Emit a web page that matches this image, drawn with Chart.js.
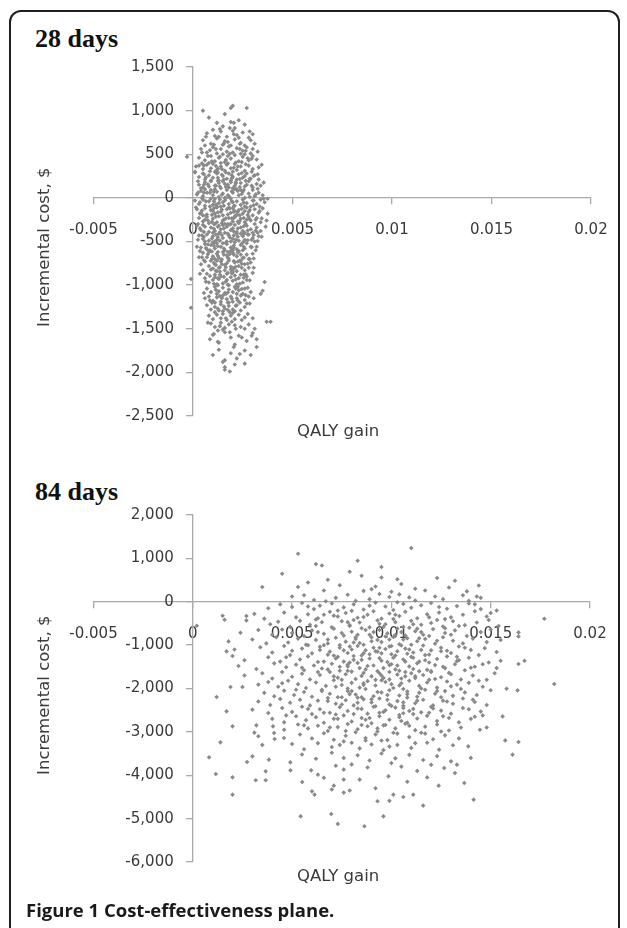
<!DOCTYPE html>
<html><head><meta charset="utf-8">
<script src="https://cdn.jsdelivr.net/npm/chart.js@4.4.1/dist/chart.umd.min.js"></script>
<style>
html,body{margin:0;padding:0;background:#fff;}
body{width:627px;height:928px;position:relative;overflow:hidden;}
#frame{position:absolute;left:9px;top:10px;width:611px;height:940px;border:2px solid #231f20;border-radius:12px;box-sizing:border-box;}
canvas{position:absolute;left:0;}
.head{position:absolute;left:35px;font-family:"Liberation Serif","Times New Roman",serif;font-weight:bold;font-size:26px;line-height:26px;color:#111;white-space:nowrap}
.xt{position:absolute;left:297px;font-family:"DejaVu Sans";font-size:16.5px;line-height:16.5px;color:#3a3a3a;white-space:nowrap}
.yt{position:absolute;width:300px;text-align:center;font-family:"DejaVu Sans";font-size:16.5px;line-height:16.5px;color:#3a3a3a;transform:rotate(-90deg);white-space:nowrap}
.cap{position:absolute;left:26px;top:901px;font-family:"Open Sans";font-weight:700;font-size:18.5px;line-height:18.5px;color:#1a1a1a;white-space:nowrap}
</style></head><body>
<div id="frame"></div>
<div class="head" style="top:26px">28 days</div>
<div class="head" style="top:479px">84 days</div>
<canvas id="c28" width="627" height="464" style="top:0"></canvas>
<canvas id="c84" width="627" height="464" style="top:464px"></canvas>
<div class="xt" style="top:423px">QALY gain</div>
<div class="xt" style="top:868px">QALY gain</div>
<div class="yt" style="left:-106px;top:239px">Incremental cost, $</div>
<div class="yt" style="left:-106px;top:687px">Incremental cost, $</div>
<div class="cap">Figure 1 Cost-effectiveness plane.</div>
<script>
const qalyTicks = [-0.005, 0, 0.005, 0.01, 0.015, 0.02];
const qalyTickLabels = ['-0.005', '0', '0.005', '0.01', '0.015', '0.02'];
const cost28Ticks = [-2500, -2000, -1500, -1000, -500, 0, 500, 1000, 1500];
const cost28TickLabels = ['-2,500', '-2,000', '-1,500', '-1,000', '-500', '0', '500', '1,000', '1,500'];
const cost84Ticks = [-6000, -5000, -4000, -3000, -2000, -1000, 0, 1000, 2000];
const cost84TickLabels = ['-6,000', '-5,000', '-4,000', '-3,000', '-2,000', '-1,000', '0', '1,000', '2,000'];

// 28 days: [QALY gain, incremental cost $]
const days28 = [
[0.0019,1030],[0.002,1055],[0.0027,1030],
[0.0005,1000],[0.0008,920],[0.0016,960],[0.0023,890],
[0.0012,860],[0.0015,820],[0.0019,870],[0.0021,800],[0.0026,840],[0.001,780],
[0.0007,740],[0.0011,710],[0.0014,760],[0.0017,700],[0.002,770],[0.0022,720],[0.0025,750],[0.0028,690],[0.003,730],[0.00185,800],
[0.0005,660],[0.0009,620],[0.0012,680],[0.0015,610],[0.0016,650],[0.0019,600],[0.0021,670],[0.0024,630],[0.0026,600],[0.0029,660],[0.0031,620],[0.0013,700],[0.0023,690],
[0.0004,560],[0.0007,520],[0.001,580],[0.0012,510],[0.0014,560],[0.0017,530],[0.0018,590],[0.002,520],[0.0022,570],[0.0025,540],[0.0027,580],[0.0029,510],[0.003,560],[0.0006,600],[0.0024,505],
[-0.0003,470],[0.0003,460],[0.0006,430],[0.0009,480],[0.0011,420],[0.0013,460],[0.0015,500],[0.0016,410],[0.0019,450],[0.0021,490],[0.0023,420],[0.0025,470],[0.0028,430],[0.003,480],[0.0032,440],[0.0008,400],[0.0014,400],[0.0026,500],
[0.0001,300],[0.0003,370],[0.0005,330],[0.0007,380],[0.0009,340],[0.001,390],[0.0012,320],[0.0014,360],[0.0016,310],[0.0017,380],[0.0019,340],[0.0021,390],[0.0022,320],[0.0024,360],[0.0026,310],[0.0028,370],[0.003,330],[0.0033,350],[0.0011,300],[0.002,300],
[0.0001,290],[0.0003,240],[0.0005,280],[0.0006,210],[0.0008,260],[0.001,230],[0.0012,280],[0.0013,200],[0.0015,250],[0.0017,220],[0.0018,280],[0.002,240],[0.0022,210],[0.0023,270],[0.0025,230],[0.0027,280],[0.0029,220],[0.0031,260],[0.0033,210],[0.0009,200],[0.0019,200],[0.0026,250],
[0.0003,150],[0.0004,110],[0.0006,180],[0.0008,130],[0.0009,190],[0.0011,140],[0.0013,170],[0.0014,110],[0.0016,160],[0.0018,120],[0.0019,180],[0.0021,140],[0.0022,100],[0.0024,170],[0.0026,130],[0.0028,190],[0.003,120],[0.0032,160],[0.0034,140],[0.0005,120],[0.0015,190],[0.002,110],[0.0027,150],
[0.0002,40],[0.0004,80],[0.0005,20],[0.0007,60],[0.0009,90],[0.001,30],[0.0012,70],[0.0013,10],[0.0015,50],[0.0017,90],[0.0018,20],[0.002,60],[0.0021,100],[0.0023,30],[0.0025,70],[0.0026,0],[0.0028,50],[0.003,90],[0.0031,20],[0.0033,60],[0.0035,30],[0.0011,100],[0.0016,0],[0.0024,90],[0.0006,100],
[0.0001,-30],[0.0003,-70],[0.0005,-20],[0.0006,-90],[0.0008,-40],[0.001,-80],[0.0011,-10],[0.0013,-60],[0.0014,-100],[0.0016,-30],[0.0018,-70],[0.0019,-10],[0.0021,-90],[0.0022,-40],[0.0024,-80],[0.0025,-20],[0.0027,-60],[0.0029,-100],[0.003,-30],[0.0032,-70],[0.0034,-20],[0.0036,-50],[0.0009,-10],[0.0015,-50],[0.002,-50],[0.0026,-100],[0.0012,-100],
[0.0002,-130],[0.0004,-170],[0.0006,-120],[0.0007,-190],[0.0009,-140],[0.0011,-180],[0.0012,-110],[0.0014,-160],[0.0015,-200],[0.0017,-130],[0.0019,-170],[0.002,-120],[0.0022,-190],[0.0023,-140],[0.0025,-180],[0.0027,-110],[0.0028,-160],[0.003,-200],[0.0031,-130],[0.0033,-170],[0.0035,-120],[0.001,-150],[0.0018,-110],[0.0026,-150],[0.0005,-200],[0.0021,-150],
[0.0003,-230],[0.0005,-270],[0.0007,-220],[0.0008,-290],[0.001,-240],[0.0012,-280],[0.0013,-210],[0.0015,-260],[0.0016,-300],[0.0018,-230],[0.002,-270],[0.0021,-210],[0.0023,-290],[0.0024,-240],[0.0026,-280],[0.0028,-220],[0.0029,-260],[0.0031,-300],[0.0032,-230],[0.0037,-260],[0.0034,-280],[0.0011,-300],[0.0019,-300],[0.0027,-250],[0.0006,-250],
[0.0002,-320],[0.0004,-370],[0.0006,-330],[0.0008,-390],[0.0009,-340],[0.0011,-380],[0.0013,-320],[0.0014,-360],[0.0016,-400],[0.0017,-330],[0.0019,-370],[0.0021,-310],[0.0022,-390],[0.0024,-340],[0.0025,-380],[0.0027,-320],[0.0029,-360],[0.003,-400],[0.0032,-340],[0.0034,-380],[0.001,-400],[0.0015,-310],[0.002,-350],[0.0026,-400],[0.0005,-310],
[0.0003,-430],[0.0005,-470],[0.0007,-420],[0.0008,-490],[0.001,-440],[0.0012,-480],[0.0013,-410],[0.0015,-460],[0.0017,-500],[0.0018,-430],[0.002,-470],[0.0022,-410],[0.0023,-490],[0.0025,-440],[0.0026,-480],[0.0028,-420],[0.003,-460],[0.0031,-500],[0.0033,-440],[0.0011,-500],[0.0019,-500],[0.0024,-410],[0.0006,-500],
[0.0004,-570],[0.0006,-530],[0.0007,-590],[0.0009,-540],[0.0011,-580],[0.0012,-520],[0.0014,-560],[0.0016,-600],[0.0017,-530],[0.0019,-570],[0.0021,-510],[0.0022,-590],[0.0024,-540],[0.0026,-580],[0.0027,-520],[0.0029,-560],[0.0032,-560],[0.0002,-560],[0.001,-510],[0.0015,-520],[0.002,-600],[0.0025,-600],
[0.0005,-630],[0.0007,-680],[0.0008,-620],[0.001,-670],[0.0012,-640],[0.0013,-690],[0.0015,-620],[0.0017,-660],[0.0018,-700],[0.002,-630],[0.0022,-670],[0.0023,-610],[0.0025,-690],[0.0027,-650],[0.0028,-700],[0.003,-640],[0.0003,-680],[0.0011,-700],[0.0019,-610],[0.0024,-650],
[0.0006,-730],[0.0008,-780],[0.0009,-720],[0.0011,-760],[0.0013,-800],[0.0014,-730],[0.0016,-770],[0.0018,-720],[0.0019,-790],[0.0021,-740],[0.0023,-780],[0.0024,-720],[0.0026,-760],[0.0028,-800],[0.0029,-740],[0.0004,-760],[0.0012,-720],[0.002,-800],[0.0017,-750],
[0.0005,-830],[0.0007,-870],[0.0009,-820],[0.0011,-880],[0.0012,-840],[0.0014,-900],[0.0016,-830],[0.0017,-870],[0.0019,-820],[0.0021,-890],[0.0022,-840],[0.0024,-880],[0.0026,-830],[0.0027,-900],[0.003,-860],[0.001,-810],[0.002,-850],
[-0.0001,-930],[0.0006,-920],[0.0008,-970],[0.001,-940],[0.0012,-990],[0.0013,-930],[0.0015,-980],[0.0017,-940],[0.0018,-1000],[0.002,-950],[0.0022,-990],[0.0023,-920],[0.0025,-970],[0.0027,-940],[0.0036,-965],[0.0011,-910],[0.0019,-910],
[0.0007,-1040],[0.0009,-1080],[0.0011,-1020],[0.0013,-1070],[0.0015,-1030],[0.0016,-1090],[0.0018,-1050],[0.002,-1080],[0.0021,-1020],[0.0023,-1060],[0.0025,-1100],[0.0026,-1040],[0.0029,-1080],[0.0035,-1065],[0.0034,-1100],[0.0012,-1100],[0.0022,-1100],
[0.0008,-1130],[0.001,-1180],[0.0012,-1140],[0.0014,-1190],[0.0015,-1120],[0.0017,-1160],[0.0019,-1130],[0.002,-1190],[0.0022,-1150],[0.0024,-1120],[0.0026,-1170],[0.0028,-1130],[0.0011,-1200],[0.0018,-1200],[0.0006,-1150],
[-0.0001,-1260],[0.0007,-1230],[0.0009,-1280],[0.0011,-1250],[0.0013,-1290],[0.0014,-1220],[0.0016,-1270],[0.0018,-1240],[0.002,-1280],[0.0022,-1230],[0.0024,-1290],[0.0026,-1250],[0.0027,-1210],[0.0015,-1300],[0.0021,-1300],
[0.0008,-1350],[0.001,-1390],[0.0012,-1340],[0.0014,-1380],[0.0015,-1330],[0.0017,-1400],[0.0019,-1350],[0.0021,-1390],[0.0023,-1340],[0.0026,-1370],[0.003,-1380],[0.0011,-1310],[0.002,-1320],
[0.0009,-1440],[0.0011,-1480],[0.0014,-1430],[0.0016,-1490],[0.0018,-1450],[0.0021,-1460],[0.0024,-1480],[0.0028,-1450],[0.0031,-1500],[0.0037,-1420],[0.0039,-1420],[0.0015,-1510],[0.0026,-1500],
[0.00085,-1620],[0.001,-1570],[0.0013,-1660],[0.0016,-1540],[0.0019,-1600],[0.0023,-1580],[0.0027,-1640],[0.0032,-1620],[0.0032,-1710],[0.003,-1550],[0.0021,-1680],
[0.001,-1800],[0.0013,-1740],[0.0016,-1860],[0.0019,-1780],[0.0022,-1840],[0.0026,-1750],[0.0029,-1800],[0.0015,-1880],
[0.0016,-1940],[0.0016,-1970],[0.0026,-1900],[0.0021,-1910],[0.00185,-1990],
[0.00095,420],[0.00145,330],[0.00195,260],[0.00245,410],[0.00125,230],[0.00175,150],[0.00225,80],[0.00085,60],[0.00135,-20],[0.00185,-120],[0.00235,-200],[0.00285,-140],[0.00075,-260],[0.00125,-330],[0.00175,-410],[0.00225,-350],[0.00275,-420],[0.00105,-520],[0.00155,-580],[0.00205,-650],[0.00255,-560],[0.00095,-700],[0.00145,-760],[0.00195,-840],[0.00245,-800],[0.00135,-880],[0.00165,-960],[0.00215,-1040],[0.00145,-1150],[0.00185,-1310],[0.00115,-770],[0.00285,-700],[0.00315,-600],[0.00325,-400],[0.00335,-100],[0.00315,40],[0.00305,250],[0.00045,-430],[0.00035,-50],[0.00025,-300],[0.00295,450],[0.00265,540],[0.00155,620],[0.00205,730],[0.00115,560],[0.00075,480],[0.00165,290],[0.00215,180],[0.00055,270],[0.00105,-120],[0.00155,-250],[0.00205,-230],[0.00265,-300],[0.00115,-420],[0.00215,-480],[0.00085,-600],[0.00175,-620],[0.00235,-720],[0.00125,-920],[0.00255,-880],[0.00165,-1100],[0.00235,-1200],[0.00195,-1420],[0.00125,-1520],[0.00245,-1400],
[0.00135,790],[0.00235,620],[0.00285,760],[0.00065,700],[0.00175,640],[0.00205,860],
[0.00045,520],[0.00085,545],[0.00135,470],[0.00185,505],[0.00235,560],[0.00275,455],[0.00325,530],[0.00105,610],[0.00165,435],[0.00215,405],
[0.00015,360],[0.00045,395],[0.00085,305],[0.00115,365],[0.00145,265],[0.00175,395],[0.00205,345],[0.00235,215],[0.00265,385],[0.00295,300],[0.00325,270],[0.00345,380],[0.00065,235],[0.00125,335],[0.00245,285],[0.00195,225],
[0.00025,190],[0.00055,60],[0.00075,155],[0.00105,70],[0.00125,195],[0.00145,35],[0.00165,125],[0.00195,75],[0.00215,165],[0.00245,45],[0.00265,195],[0.00295,140],[0.00325,105],[0.00355,175],[0.00375,-10],[0.00045,0],[0.00135,130],[0.00185,5],[0.00235,125],[0.00285,10],
[0.00015,-110],[0.00045,-145],[0.00065,-40],[0.00095,-195],[0.00115,-75],[0.00145,-135],[0.00165,-5],[0.00175,-190],[0.00205,-95],[0.00225,-160],[0.00255,-55],[0.00275,-195],[0.00305,-85],[0.00335,-150],[0.00355,-10],[0.00375,-180],[0.00085,-100],[0.00125,-165],[0.00195,-40],[0.00245,-125],
[0.00035,-350],[0.00065,-205],[0.00095,-275],[0.00115,-215],[0.00135,-395],[0.00165,-235],[0.00185,-305],[0.00205,-385],[0.00235,-265],[0.00255,-325],[0.00285,-245],[0.00315,-375],[0.00345,-235],[0.00365,-330],[0.00055,-390],[0.00145,-290],[0.00215,-210],[0.00275,-375],[0.00105,-355],[0.00195,-235],
[0.00025,-480],[0.00055,-445],[0.00075,-535],[0.00095,-465],[0.00125,-555],[0.00145,-425],[0.00165,-515],[0.00185,-455],[0.00205,-545],[0.00225,-445],[0.00245,-525],[0.00275,-485],[0.00295,-565],[0.00325,-495],[0.00345,-445],[0.00135,-490],[0.00195,-590],[0.00255,-415],[0.00065,-575],[0.00305,-425],
[0.00035,-610],[0.00055,-715],[0.00075,-645],[0.00105,-745],[0.00125,-665],[0.00145,-705],[0.00165,-795],[0.00185,-645],[0.00205,-725],[0.00225,-625],[0.00255,-685],[0.00275,-755],[0.00305,-695],[0.00095,-615],[0.00175,-685],[0.00245,-755],[0.00135,-795],[0.00215,-790],
[0.00035,-870],[0.00065,-960],[0.00085,-895],[0.00105,-985],[0.00135,-845],[0.00155,-905],[0.00175,-995],[0.00195,-865],[0.00215,-935],[0.00235,-985],[0.00265,-875],[0.00285,-945],[0.00115,-835],[0.00205,-815],[0.00255,-915],
[0.00055,-1090],[0.00085,-1175],[0.00115,-1055],[0.00135,-1125],[0.00155,-1245],[0.00175,-1085],[0.00195,-1155],[0.00215,-1235],[0.00245,-1045],[0.00265,-1115],[0.00285,-1210],[0.00305,-1150],[0.00125,-1270],[0.00225,-1175],[0.00175,-1285],
[0.00075,-1430],[0.00105,-1560],[0.00135,-1470],[0.00165,-1380],[0.00185,-1540],[0.00215,-1500],[0.00245,-1600],[0.00275,-1330],[0.00295,-1580],[0.00125,-1650],[0.00205,-1710],[0.00235,-1790],
[0.00115,140],[0.00155,210],[0.00205,110],[0.00255,90],[0.00105,-40],[0.00155,-90],[0.00205,-160],[0.00255,-230],[0.00155,-350],[0.00205,-430],[0.00105,-300],[0.00255,-500],[0.00155,-650],[0.00105,-550],[0.00205,-570],[0.00175,-300],[0.00125,-450],[0.00225,-270],[0.00175,30],[0.00125,290],[0.00225,360],[0.00175,480],[0.00125,-620],[0.00225,-730],[0.00175,-860],[0.00125,-1000],[0.00225,-1020],[0.00175,-1200],[0.00275,-1030],[0.00095,-1200],[0.00055,370],[0.00285,220],[0.00305,-30],[0.00315,-250],[0.00295,-480],[0.00305,-800],[0.00045,-680],[0.00035,-180],[0.00055,150],[0.00025,60]
];

// 84 days: [QALY gain, incremental cost $]
const days84 = [
[0.0053,1106],[0.011,1237],
[0.0062,868],[0.0065,837],[0.0083,945],[0.0095,800],
[0.0045,645],[0.0068,507],[0.0085,599],[0.0095,560],[0.0123,546],[0.0132,484],[0.0079,690],[0.0103,520],
[0.0035,339],[0.0053,339],[0.0058,445],[0.0066,260],[0.0092,350],[0.009,290],[0.0105,410],[0.0112,300],[0.0117,260],[0.0144,376],[0.01,230],[0.0074,380],[0.0129,330],[0.0086,250],[0.0138,240],
[0.005,120],[0.0056,150],[0.0061,40],[0.0072,90],[0.0078,160],[0.0089,60],[0.0099,110],[0.0104,170],[0.0112,30],[0.0122,122],[0.0126,60],[0.0136,150],[0.0143,122],[0.0145,90],[0.0139,20],[0.0067,10],[0.0094,180],[0.0109,100],[0.0082,20],
[0.0038,-150],[0.0044,-60],[0.005,-120],[0.0055,-30],[0.0061,-170],[0.0064,-90],[0.007,-40],[0.0076,-130],[0.0081,-60],[0.0086,-180],[0.0092,-20],[0.0097,-110],[0.0101,-190],[0.0106,-50],[0.011,-140],[0.0115,-80],[0.012,-30],[0.0128,-160],[0.0133,-100],[0.0139,-40],[0.0145,-170],[0.0153,-200],[0.0103,-10],[0.0089,-90],[0.0124,-120],[0.0073,-200],[0.0058,-110],[0.0142,-60],
[0.0015,-323],[0.0016,-415],[0.0027,-330],[0.0031,-280],[0.0036,-390],[0.0046,-250],[0.0052,-360],[0.0058,-290],[0.0063,-380],[0.0069,-230],[0.0073,-340],[0.0077,-260],[0.0083,-370],[0.0088,-300],[0.0091,-220],[0.0095,-390],[0.0099,-270],[0.0104,-330],[0.0107,-230],[0.0113,-380],[0.0118,-290],[0.0124,-250],[0.013,-360],[0.0136,-300],[0.0142,-220],[0.0148,-340],[0.0177,-392],[0.0127,-400],[0.008,-210],[0.0066,-300],[0.0101,-400],[0.015,-260],
[0.0002,-553],[0.0027,-430],[0.0039,-520],[0.0043,-460],[0.0049,-580],[0.0054,-440],[0.0059,-530],[0.0065,-470],[0.007,-590],[0.0075,-450],[0.0079,-540],[0.0084,-480],[0.0089,-590],[0.0093,-430],[0.0097,-520],[0.0102,-470],[0.0106,-580],[0.011,-440],[0.0115,-530],[0.012,-490],[0.0126,-570],[0.0131,-450],[0.0137,-540],[0.0143,-480],[0.0149,-420],[0.0154,-560],[0.0062,-410],[0.0081,-420],[0.0109,-600],[0.0123,-420],
[0.0024,-715],[0.0033,-650],[0.004,-760],[0.0045,-640],[0.005,-720],[0.0056,-790],[0.006,-660],[0.0066,-740],[0.0071,-620],[0.0076,-780],[0.008,-690],[0.0085,-610],[0.0089,-760],[0.0094,-650],[0.0098,-730],[0.0103,-620],[0.0107,-780],[0.0112,-680],[0.0116,-760],[0.0121,-630],[0.0127,-720],[0.0132,-660],[0.0138,-790],[0.0145,-700],[0.0164,-707],[0.0164,-799],[0.015,-640],[0.0091,-700],[0.0063,-700],[0.0119,-790],
[0.0018,-914],[0.003,-870],[0.0037,-960],[0.0042,-820],[0.0048,-940],[0.0053,-850],[0.0057,-990],[0.0062,-880],[0.0068,-960],[0.0072,-830],[0.0077,-920],[0.0082,-860],[0.0086,-990],[0.009,-820],[0.0095,-930],[0.0099,-870],[0.0104,-980],[0.0108,-840],[0.0113,-910],[0.0117,-860],[0.0122,-970],[0.0126,-820],[0.0131,-900],[0.0136,-960],[0.0141,-850],[0.0148,-930],[0.0155,-880],[0.0074,-1000],[0.0101,-810],[0.0084,-950],[0.011,-990],
[0.0017,-1145],[0.0021,-1100],[0.0034,-1050],[0.004,-1170],[0.0046,-1020],[0.005,-1130],[0.0055,-1080],[0.006,-1190],[0.0064,-1040],[0.0069,-1150],[0.0074,-1060],[0.0078,-1180],[0.0083,-1020],[0.0087,-1120],[0.0091,-1060],[0.0095,-1190],[0.0099,-1030],[0.0103,-1140],[0.0107,-1080],[0.0111,-1170],[0.0116,-1010],[0.012,-1120],[0.0125,-1060],[0.013,-1180],[0.0134,-1030],[0.014,-1110],[0.0147,-1070],[0.0153,-1160],[0.008,-1100],[0.0105,-1010],[0.0128,-1130],[0.0066,-1000],[0.0093,-1150],
[0.002,-1250],[0.0026,-1350],[0.0038,-1280],[0.0044,-1380],[0.0049,-1230],[0.0054,-1330],[0.0058,-1260],[0.0063,-1390],[0.0068,-1220],[0.0072,-1310],[0.0076,-1380],[0.0081,-1250],[0.0085,-1340],[0.0089,-1210],[0.0094,-1300],[0.0098,-1390],[0.0102,-1240],[0.0106,-1330],[0.011,-1270],[0.0114,-1380],[0.0119,-1220],[0.0123,-1320],[0.0128,-1260],[0.0133,-1370],[0.0139,-1290],[0.0144,-1230],[0.0149,-1400],[0.0155,-1360],[0.0167,-1359],[0.0079,-1400],[0.01,-1210],[0.0117,-1350],
[0.0023,-1480],[0.0032,-1550],[0.0041,-1420],[0.0047,-1510],[0.0052,-1450],[0.0056,-1580],[0.0061,-1470],[0.0065,-1540],[0.007,-1430],[0.0074,-1590],[0.0078,-1490],[0.0083,-1410],[0.0087,-1560],[0.0091,-1470],[0.0096,-1530],[0.01,-1440],[0.0104,-1590],[0.0109,-1490],[0.0113,-1420],[0.0118,-1570],[0.0122,-1460],[0.0127,-1530],[0.0132,-1440],[0.0137,-1580],[0.0142,-1500],[0.0146,-1440],[0.0153,-1530],[0.0164,-1436],[0.0093,-1600],[0.0068,-1560],[0.012,-1600],
[0.0026,-1700],[0.0035,-1650],[0.004,-1770],[0.0045,-1620],[0.005,-1730],[0.0055,-1660],[0.0059,-1790],[0.0064,-1690],[0.0069,-1620],[0.0073,-1750],[0.0077,-1670],[0.0082,-1780],[0.0086,-1640],[0.009,-1720],[0.0094,-1650],[0.0099,-1790],[0.0103,-1680],[0.0107,-1620],[0.0112,-1760],[0.0116,-1690],[0.012,-1620],[0.0125,-1740],[0.013,-1670],[0.0135,-1790],[0.0141,-1700],[0.0148,-1797],[0.0152,-1650],[0.008,-1610],[0.0105,-1770],[0.0119,-1800],
[0.0019,-1965],[0.0025,-1965],[0.0033,-1910],[0.0038,-1850],[0.0043,-1960],[0.0048,-1820],[0.0053,-1900],[0.0057,-1990],[0.0062,-1860],[0.0067,-1940],[0.0071,-1810],[0.0075,-1920],[0.008,-1870],[0.0084,-1980],[0.0088,-1830],[0.0092,-1930],[0.0097,-1850],[0.0101,-1990],[0.0105,-1880],[0.0109,-1820],[0.0114,-1940],[0.0118,-1860],[0.0123,-1980],[0.0128,-1840],[0.0133,-1910],[0.0139,-1870],[0.0146,-1960],[0.0158,-2005],[0.0182,-1896],[0.0078,-2000],[0.0095,-1810],
[0.0012,-2196],[0.0036,-2100],[0.0041,-2180],[0.0046,-2050],[0.0051,-2150],[0.0056,-2080],[0.006,-2190],[0.0065,-2030],[0.0069,-2120],[0.0073,-2200],[0.0078,-2060],[0.0082,-2140],[0.0087,-2010],[0.0091,-2180],[0.0095,-2090],[0.0099,-2040],[0.0104,-2160],[0.0108,-2070],[0.0113,-2190],[0.0117,-2030],[0.0122,-2120],[0.0127,-2060],[0.0131,-2170],[0.0137,-2090],[0.0143,-2150],[0.015,-2040],[0.01635,-2044],[0.0085,-2200],[0.0106,-2010],[0.0125,-2200],
[0.0033,-2300],[0.0039,-2380],[0.0044,-2240],[0.0049,-2330],[0.0054,-2260],[0.0059,-2390],[0.0063,-2280],[0.0068,-2220],[0.0072,-2350],[0.0077,-2270],[0.0081,-2390],[0.0086,-2250],[0.009,-2320],[0.0094,-2230],[0.0099,-2370],[0.0103,-2290],[0.0108,-2210],[0.0112,-2340],[0.0116,-2260],[0.0121,-2390],[0.0126,-2280],[0.0131,-2350],[0.0136,-2230],[0.0142,-2310],[0.0148,-2380],[0.0106,-2400],[0.0083,-2210],
[0.0017,-2527],[0.003,-2488],[0.0038,-2565],[0.0045,-2450],[0.005,-2540],[0.0055,-2420],[0.006,-2590],[0.0064,-2480],[0.0069,-2560],[0.0074,-2430],[0.0078,-2520],[0.0083,-2460],[0.0088,-2580],[0.0092,-2410],[0.0097,-2500],[0.0102,-2440],[0.0106,-2570],[0.0111,-2470],[0.0115,-2550],[0.012,-2420],[0.0125,-2510],[0.013,-2580],[0.0136,-2450],[0.0142,-2650],[0.0145,-2530],[0.0156,-2643],[0.0072,-2600],
[0.004,-2700],[0.0046,-2780],[0.0052,-2640],[0.0057,-2730],[0.0062,-2660],[0.0066,-2790],[0.0071,-2700],[0.0076,-2620],[0.008,-2760],[0.0085,-2680],[0.009,-2800],[0.0094,-2640],[0.0099,-2720],[0.0104,-2660],[0.0108,-2790],[0.0113,-2690],[0.0118,-2630],[0.0123,-2750],[0.0129,-2680],[0.0134,-2780],[0.014,-2700],[0.0146,-2620],
[0.002,-2873],[0.0032,-2850],[0.00404,-2873],[0.0046,-2950],[0.0053,-2830],[0.0058,-2920],[0.0063,-2860],[0.0068,-2980],[0.0073,-2890],[0.0078,-2820],[0.0083,-2940],[0.0088,-2870],[0.0093,-2990],[0.0097,-2840],[0.0102,-2920],[0.0107,-2810],[0.0112,-2960],[0.0117,-2880],[0.0123,-2830],[0.0129,-2970],[0.0135,-2900],[0.01446,-2950],[0.0148,-2900],
[0.00139,-3242],[0.0031,-3018],[0.0033,-3100],[0.00409,-3026],[0.00412,-3164],[0.00459,-3141],[0.0054,-3060],[0.006,-3150],[0.0066,-3030],[0.0071,-3180],[0.0077,-3090],[0.0082,-3010],[0.0087,-3140],[0.0092,-3060],[0.0098,-3190],[0.0103,-3040],[0.0109,-3120],[0.0115,-3020],[0.0121,-3170],[0.0127,-3080],[0.0134,-3150],[0.01573,-3196],[0.0164,-3233],[0.0095,-3200],
[0.0035,-3300],[0.005,-3280],[0.0056,-3400],[0.0063,-3260],[0.007,-3350],[0.0076,-3220],[0.0084,-3380],[0.009,-3290],[0.0096,-3420],[0.0103,-3300],[0.011,-3370],[0.0118,-3250],[0.0124,-3410],[0.0131,-3310],[0.01387,-3334],[0.008,-3250],
[0.00082,-3587],[0.00273,-3694],[0.003,-3564],[0.00383,-3640],[0.00491,-3703],[0.0055,-3520],[0.0062,-3620],[0.007,-3480],[0.0076,-3600],[0.0083,-3540],[0.0089,-3660],[0.0095,-3500],[0.0102,-3610],[0.0109,-3530],[0.0116,-3650],[0.0123,-3560],[0.013,-3680],[0.0161,-3525],[0.014,-3600],
[0.00116,-3970],[0.00367,-3910],[0.00492,-3887],[0.00596,-3887],[0.0063,-3986],[0.0076,-3870],[0.0072,-3780],[0.008,-3750],[0.0088,-3820],[0.00985,-4025],[0.0105,-3800],[0.0113,-3900],[0.012,-3760],[0.01266,-3832],[0.0133,-3756],[0.0132,-3950],[0.01,-3720],
[0.002,-4048],[0.00317,-4117],[0.00367,-4117],[0.00551,-4154],[0.0071,-4240],[0.0076,-4100],[0.0084,-4100],[0.0092,-4300],[0.01367,-4178],[0.01238,-4240],[0.0108,-4150],[0.0118,-4050],[0.0066,-4060],
[0.002,-4447],[0.006,-4371],[0.00613,-4447],[0.0076,-4400],[0.0079,-4350],[0.0093,-4600],[0.0099,-4590],[0.0101,-4447],[0.0111,-4447],[0.01414,-4562],[0.007,-4330],[0.0106,-4500],
[0.00543,-4947],[0.00697,-4892],[0.0073,-5122],[0.00864,-5177],[0.0096,-4947],[0.0116,-4700],
[0.0079,-560],[0.0087,-650],[0.0096,-580],[0.0105,-700],[0.0113,-620],[0.0082,-820],[0.0093,-880],[0.0102,-760],[0.0114,-840],[0.0076,-1120],[0.0085,-1240],[0.0097,-1090],[0.0108,-1200],[0.0115,-1110],[0.0089,-1310],[0.0099,-1460],[0.0107,-1380],[0.0078,-1450],[0.0084,-1530],[0.0095,-1700],[0.0102,-1560],[0.011,-1650],[0.0075,-1800],[0.0086,-1880],[0.0096,-1760],[0.0104,-1930],[0.0112,-1720],[0.008,-2060],[0.009,-2250],[0.0098,-2150],[0.0106,-2320],[0.0114,-2100],[0.0075,-2370],[0.0085,-2470],[0.0094,-2560],[0.01,-2400],[0.0109,-2520],[0.0087,-2720],[0.0096,-2850],[0.0105,-2750],[0.0111,-1290],[0.0092,-1140],[0.0081,-940],[0.01,-1020],[0.0073,-1270],
[0.0071,-320],[0.0078,-470],[0.0086,-350],[0.0094,-510],[0.0102,-300],[0.0111,-520],[0.0119,-360],[0.0127,-610],[0.0068,-870],[0.0075,-720],[0.0083,-760],[0.009,-910],[0.0097,-800],[0.0106,-870],[0.0115,-700],[0.0123,-900],[0.013,-760],[0.0064,-1110],[0.0071,-1240],[0.0079,-1030],[0.0086,-1190],[0.0094,-1060],[0.0101,-1290],[0.0109,-1100],[0.0117,-1230],[0.0125,-1140],[0.0133,-1270],[0.0066,-1380],[0.0074,-1500],[0.0081,-1340],[0.0088,-1480],[0.0095,-1360],[0.0103,-1470],[0.0111,-1550],[0.0119,-1400],[0.0126,-1500],[0.0134,-1350],[0.0063,-1620],[0.0071,-1720],[0.0078,-1590],[0.0085,-1710],[0.0092,-1800],[0.0099,-1620],[0.0107,-1720],[0.0114,-1600],[0.0122,-1780],[0.0129,-1640],[0.0065,-2060],[0.0072,-1960],[0.0079,-2130],[0.0086,-1920],[0.0093,-2080],[0.01,-1900],[0.0108,-2130],[0.0115,-2000],[0.0123,-2060],[0.013,-1950],[0.0068,-2290],[0.0075,-2200],[0.0083,-2330],[0.0091,-2420],[0.0098,-2260],[0.0106,-2450],[0.0113,-2280],[0.0121,-2460],[0.0128,-2300],[0.0066,-2560],[0.0073,-2700],[0.0081,-2590],[0.0089,-2680],[0.0096,-2540],[0.0104,-2610],[0.0111,-2590],[0.0119,-2560],[0.0126,-2640],[0.0069,-2900],[0.0077,-2980],[0.0085,-2840],[0.0093,-2920],[0.0101,-3020],[0.0109,-2860],[0.0117,-3040],[0.0125,-2990],[0.0074,-3300],[0.0087,-3200],[0.0099,-3340],[0.0112,-3260],[0.0058,-1000],[0.0055,-1520],[0.0052,-2030],[0.0058,-2470],[0.0056,-2850],[0.0137,-1060],[0.014,-1520],[0.0135,-2010],[0.0139,-2480],[0.0062,-560],[0.0134,-560],[0.0047,-1280],[0.0045,-1880],[0.0047,-2620],[0.0144,-1820],[0.0141,-2260]
];

const axisColor = '#a9a9ae';
const tickColor = '#3a3a3a';
const pointColor = '#8a8a8a';
const yLabelGap = '    ';

function makeChart(id, pts, yTicks, yLabels, pad) {
  new Chart(document.getElementById(id), {
    type: 'scatter',
    data: {datasets: [{
      data: pts.map(p => ({x: p[0], y: p[1]})),
      pointStyle: 'rectRot', pointRadius: 2.3, pointHoverRadius: 2.3,
      backgroundColor: pointColor, borderWidth: 0
    }]},
    options: {
      responsive: false, animation: false, devicePixelRatio: 1, events: [],
      layout: {padding: pad},
      plugins: {legend: {display: false}, tooltip: {enabled: false}, title: {display: false}},
      scales: {
        x: {
          type: 'linear', position: {y: 0},
          min: qalyTicks[0], max: qalyTicks[qalyTicks.length - 1],
          afterBuildTicks: s => { s.ticks = qalyTicks.map(v => ({value: v})); },
          afterFit: s => { s.height = 0; },
          grid: {drawOnChartArea: false, drawTicks: true, tickLength: 6, color: axisColor, lineWidth: 1.3},
          border: {display: true, color: axisColor, width: 1.3},
          ticks: {padding: 17, color: tickColor, font: {family: 'DejaVu Sans', size: 15}, maxRotation: 0, autoSkip: false,
                  callback: (v, i) => qalyTickLabels[i]}
        },
        y: {
          type: 'linear', position: {x: 0},
          min: yTicks[0], max: yTicks[yTicks.length - 1],
          afterBuildTicks: s => { s.ticks = yTicks.map(v => ({value: v})); },
          afterFit: s => { s.width = 0; },
          grid: {drawOnChartArea: false, drawTicks: true, tickLength: 6, color: axisColor, lineWidth: 1.3},
          border: {display: true, color: axisColor, width: 1.3},
          ticks: {padding: 13, color: tickColor, font: {family: 'DejaVu Sans', size: 15}, autoSkip: false,
                  callback: (v, i) => yLabels[i] + yLabelGap}
        }
      }
    }
  });
}

makeChart('c28', days28, cost28Ticks, cost28TickLabels, {left: 93.5, right: 36, top: 67, bottom: 48});
makeChart('c84', days84, cost84Ticks, cost84TickLabels, {left: 93.5, right: 37, top: 51, bottom: 66});
</script>
</body></html>
